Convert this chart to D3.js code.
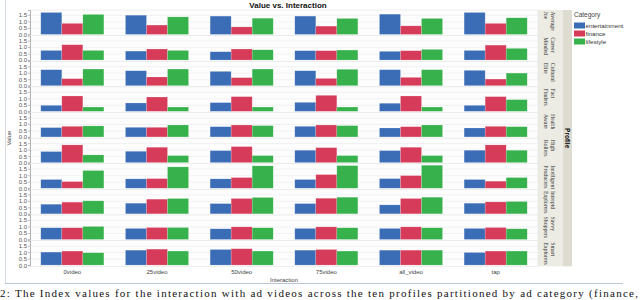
<!DOCTYPE html>
<html>
<head>
<meta charset="utf-8">
<script src="https://cdn.jsdelivr.net/npm/d3@7"></script>
<style>
  body { margin: 0; background: #fff; }
  svg { font-family: "Liberation Sans", Arial, sans-serif; }
</style>
</head>
<body>
<div id="chart"></div>
<script>
// data
var interactions = ["0video", "25video", "50video", "75video", "all_video", "tap"];
var categories = ["entertainment", "finance", "lifestyle"];
var profiles = [
  ["Average", "Joe"], ["Career", "Minded"], ["Cultural", "Elite"], ["Fact", "Finders"],
  ["Health", "Aware"], ["High", "Rollers"], ["Intelligent", "Producers"],
  ["Intrepid", "Explorers"], ["Savvy", "Shoppers"], ["Smart", "Explorers"]
];
var yTicks = [0, 0.5, 1.0, 1.5];

// one array per category: rows = profiles, cols = interactions
var entertainment = [
  [1.69, 1.48, 1.41, 1.41, 1.56, 1.69],
  [0.74, 0.69, 0.64, 0.72, 0.67, 0.74],
  [1.23, 1.15, 1.10, 1.15, 1.23, 1.18],
  [0.46, 0.64, 0.67, 0.69, 0.62, 0.46],
  [0.72, 0.74, 0.79, 0.82, 0.69, 0.69],
  [0.85, 0.87, 0.92, 0.95, 0.92, 0.95],
  [0.67, 0.72, 0.72, 0.67, 0.74, 0.67],
  [0.74, 0.82, 0.79, 0.79, 0.69, 0.82],
  [0.90, 0.85, 0.82, 0.85, 0.85, 0.85],
  [1.00, 1.15, 1.20, 1.15, 1.15, 0.97]
];
var finance = [
  [0.85, 0.72, 0.58, 0.64, 0.66, 0.85],
  [1.18, 0.85, 0.85, 0.72, 0.72, 1.15],
  [0.54, 0.67, 0.62, 0.56, 0.64, 0.51],
  [1.18, 1.10, 1.13, 1.23, 1.18, 1.13],
  [0.82, 0.74, 0.92, 0.92, 0.79, 0.82],
  [1.36, 1.18, 1.23, 1.15, 1.18, 1.36],
  [0.51, 0.74, 0.82, 1.05, 0.97, 0.54],
  [0.90, 1.13, 1.18, 1.20, 1.18, 0.92],
  [0.90, 0.92, 0.97, 0.97, 0.97, 0.92],
  [1.08, 1.23, 1.26, 1.20, 1.15, 1.08]
];
var lifestyle = [
  [1.54, 1.35, 1.25, 1.23, 1.23, 1.28],
  [0.74, 0.74, 0.79, 0.77, 0.82, 0.90],
  [1.28, 1.28, 1.28, 1.26, 1.23, 0.97],
  [0.33, 0.33, 0.33, 0.33, 0.33, 0.90],
  [0.85, 0.92, 0.87, 0.87, 0.92, 0.79],
  [0.59, 0.54, 0.54, 0.54, 0.54, 0.95],
  [1.36, 1.64, 1.72, 1.74, 1.77, 0.82],
  [1.00, 1.18, 1.26, 1.28, 1.28, 0.95],
  [1.00, 0.92, 0.90, 0.90, 0.90, 0.82],
  [0.95, 1.08, 1.08, 1.08, 1.15, 1.08]
];
var seriesValues = [entertainment, finance, lifestyle];

var width = 640, height = 300;
var plot = {left: 30, right: 538, top: 10, bottom: 266.3};
var serif = "'Liberation Serif', 'DejaVu Serif', serif";

var svg = d3.select("#chart").append("svg")
    .attr("width", width)
    .attr("height", height);

var colors = d3.scaleOrdinal()
  .domain(categories)
  .range(["#3b6db7", "#d63c5a", "#36b14b"]);

var x0 = d3.scaleBand()
  .domain(interactions)
  .range([plot.left, plot.right])
  .paddingInner(0.255)
  .paddingOuter(0.1275);

var x1 = d3.scaleBand()
  .domain(categories)
  .range([0, x0.bandwidth()]);

var rows = d3.scaleBand()
  .domain(d3.range(profiles.length))
  .range([plot.top, plot.bottom]);

var rowH = rows.bandwidth();
var y = d3.scaleLinear()
  .domain([0, 1.88])
  .range([rowH - 1.2, 0]);

// report frame
svg.append("line")
  .attr("x1", 5.5).attr("x2", 5.5).attr("y1", 0).attr("y2", 283.5)
  .attr("stroke", "#d5dbe6");
svg.append("line")
  .attr("x1", 5).attr("x2", 623).attr("y1", 283.5).attr("y2", 283.5)
  .attr("stroke", "#b9c6dc");

// title
svg.append("text")
  .attr("x", 288).attr("y", 8)
  .attr("text-anchor", "middle")
  .attr("font-size", "8px")
  .attr("font-weight", "bold")
  .attr("fill", "#111")
  .text("Value vs. Interaction");

// strips on the right
svg.append("rect")
  .attr("x", plot.right).attr("y", plot.top)
  .attr("width", 25).attr("height", plot.bottom - plot.top)
  .attr("fill", "#ecebe4");
svg.append("rect")
  .attr("x", plot.right + 25).attr("y", plot.top)
  .attr("width", 9).attr("height", plot.bottom - plot.top)
  .attr("fill", "#dedbd0");

var row = svg.selectAll("g.row")
  .data(profiles)
  .enter().append("g")
    .attr("class", "row")
    .attr("transform", function(d, i) { return "translate(0," + rows(i) + ")"; });

row.append("rect")
  .attr("x", plot.left).attr("y", 0)
  .attr("width", plot.right - plot.left).attr("height", rowH)
  .attr("fill", "#fdfdfd")
  .attr("stroke", "#e4e4e4")
  .attr("stroke-width", 0.6);

// gridlines
row.selectAll("line.grid")
  .data(yTicks.slice(1))
  .enter().append("line")
    .attr("class", "grid")
    .attr("x1", plot.left).attr("x2", plot.right)
    .attr("y1", function(d) { return y(d) + 0.5; })
    .attr("y2", function(d) { return y(d) + 0.5; })
    .attr("stroke", "#ececf2")
    .attr("stroke-width", 0.7);

// y axis per row
row.append("g")
  .attr("transform", "translate(" + plot.left + ",0)")
  .each(function() {
    var g = d3.select(this).call(d3.axisLeft(y).tickValues(yTicks).tickSize(2).tickFormat(d3.format(".1f")));
    g.attr("font-family", null);
    g.select(".domain").attr("stroke", "#9a9a9a").attr("stroke-width", 0.7);
    g.selectAll(".tick line").attr("stroke", "#9a9a9a").attr("stroke-width", 0.6);
    g.selectAll(".tick text")
      .attr("font-size", "6px")
      .attr("fill", "#555")
      .attr("x", -3);
  });

// bars
row.each(function(p, ri) {
  var g = d3.select(this);
  var cells = [];
  interactions.forEach(function(inter, ci) {
    categories.forEach(function(cat, si) {
      cells.push({inter: inter, cat: cat, v: seriesValues[si][ri][ci]});
    });
  });
  g.selectAll("rect.bar")
    .data(cells)
    .enter().append("rect")
      .attr("class", "bar")
      .attr("x", function(d) { return x0(d.inter) + x1(d.cat); })
      .attr("y", function(d) { return y(d.v); })
      .attr("width", x1.bandwidth())
      .attr("height", function(d) { return y(0) - y(d.v); })
      .attr("fill", function(d) { return colors(d.cat); })
      .attr("stroke", "rgba(255,255,255,0.35)")
      .attr("stroke-width", 0.5);
});

// strip labels
row.append("text")
  .attr("transform", "translate(551,1.5) rotate(90)")
  .style("font-family", serif)
  .attr("font-size", "5.8px")
  .attr("fill", "#333")
  .selectAll("tspan")
  .data(function(d) { return d; })
  .enter().append("tspan")
    .attr("x", 0)
    .attr("dy", function(d, i) { return i === 0 ? 0 : 7; })
    .text(function(d) { return d; });

svg.append("text")
  .attr("transform", "translate(565," + ((plot.top + plot.bottom) / 2) + ") rotate(90)")
  .attr("text-anchor", "middle")
  .attr("font-size", "6.5px")
  .attr("font-weight", "bold")
  .attr("fill", "#111")
  .text("Profile");

// x axis labels
svg.append("g")
  .attr("transform", "translate(0," + plot.bottom + ")")
  .call(d3.axisBottom(x0).tickSize(0).tickPadding(3))
  .call(function(g) {
    g.attr("font-family", null);
    g.select(".domain").remove();
    g.selectAll("text").attr("font-size", "6px").attr("fill", "#444");
  });

svg.append("text")
  .attr("x", (plot.left + plot.right) / 2).attr("y", 281.5)
  .attr("text-anchor", "middle")
  .attr("font-size", "6px")
  .attr("fill", "#444")
  .text("Interaction");

svg.append("text")
  .attr("transform", "translate(11," + ((plot.top + plot.bottom) / 2) + ") rotate(-90)")
  .attr("text-anchor", "middle")
  .attr("font-size", "6px")
  .attr("fill", "#444")
  .text("Value");

// legend
var legend = svg.append("g").attr("transform", "translate(574,0)");
legend.append("text")
  .attr("x", 0).attr("y", 17)
  .attr("font-size", "6.5px")
  .attr("fill", "#444")
  .text("Category");
var li = legend.selectAll("g.item")
  .data(categories)
  .enter().append("g")
    .attr("class", "item")
    .attr("transform", function(d, i) { return "translate(0," + (22.5 + i * 8) + ")"; });
li.append("rect")
  .attr("width", 11).attr("height", 6)
  .attr("fill", function(d) { return colors(d); });
li.append("text")
  .attr("x", 11.5).attr("y", 5.3)
  .attr("font-size", "6.2px")
  .attr("fill", "#333")
  .text(function(d) { return d; });

// caption below the chart
svg.append("text")
  .attr("x", 0).attr("y", 297)
  .style("font-family", serif)
  .attr("font-size", "11px")
  .attr("fill", "#111")
  .attr("textLength", 638)
  .attr("lengthAdjust", "spacing")
  .text("2: The Index values for the interaction with ad videos across the ten profiles partitioned by ad category (finance,");
</script>
</body>
</html>
